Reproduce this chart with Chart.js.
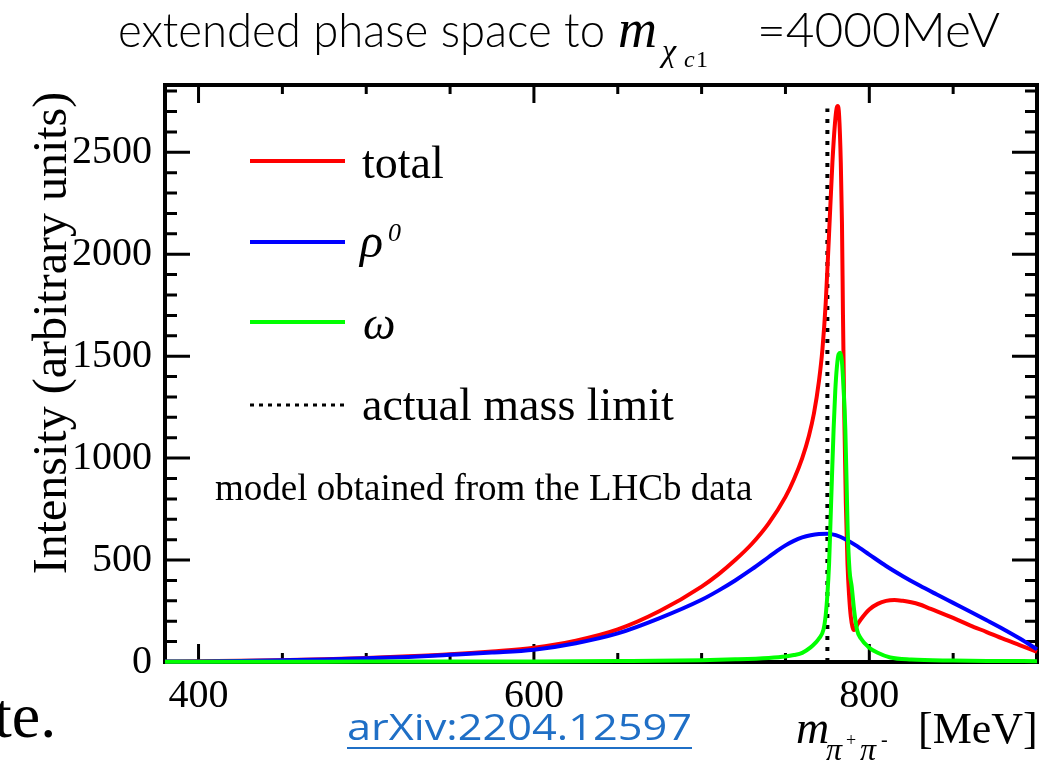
<!DOCTYPE html>
<html><head><meta charset="utf-8">
<script src="https://cdn.jsdelivr.net/npm/chart.js@4.4.0/dist/chart.umd.min.js"></script>
<style>html,body{margin:0;padding:0;background:#fff;overflow:hidden}#wrap{width:1050px;height:769px;position:relative}</style>
</head><body><div id="wrap"><canvas id="c" width="1050" height="769"></canvas></div>
<script>
// ---- data ----
const totalX = [380,400,425,450,475,500,525,550,575,600,625,650,675,700,710,720,730,740,750,755,760,764,767,770,772,774,776,778,779.5,780.5,781.2,782,783,783.7,784.3,785,786,787,788,789,790,790.8,791.5,793,795,800,805,810,815,820,825,830,835,840,850,860,870,880,890,900];
const totalY = [2,4,6,9,13,20,28,38,52,70,105,160,250,370,430,500,580,680,810,895,1000,1110,1220,1380,1530,1760,2100,2450,2640,2715,2727,2680,2450,2150,1700,1250,780,480,320,220,170,157,162,185,210,258,285,300,304,300,293,282,266,250,216,180,147,113,82,50];
const rhoX = [380,400,425,450,475,500,525,550,575,600,625,650,675,700,710,720,730,740,745,750,755,760,765,770,775,780,786,792,800,810,820,830,840,850,860,870,880,890,900];
const rhoY = [2,3,5,8,12,18,25,35,46,60,92,140,215,305,350,400,455,515,545,572,594,611,622,628,629,622,601,572,527,471,421,375,332,290,248,205,161,114,62];
const omegaX = [380,400,450,500,550,600,650,700,720,740,750,755,760,765,768,770,772.7,774,775,776,776.7,777.7,778.7,779.7,780.7,781.7,782.7,783.6,784.6,785.7,786.4,787.1,788.2,789.5,791,792.7,795,799.4,805,812.5,825,850,875,900];
const omegaY = [1,1,1,2,2,3,5,9,13,20,27,34,45,72,95,115,160,230,330,480,648,900,1140,1330,1450,1510,1517,1480,1350,1140,900,648,450,370,250,157,115,74,45,22,12,7,5,4];
const massLimitX = 775;
const massLimitTop = 2715;
const xTickLabels = [400,600,800];
const yTickLabels = [0,500,1000,1500,2000,2500];
const seriesNames = ['total','ρ','ω','actual mass limit'];

const X_MIN=380, X_MAX=900, Y_MIN=0, Y_MAX=2830;
const SERIF='"Liberation Serif","Times New Roman",serif';

const pts=(xs,ys)=>xs.map((x,i)=>({x:x,y:ys[i]}));

const framePlugin={
  id:'frame',
  beforeDatasetsDraw(chart){
    const {ctx,chartArea:a,scales:{x,y}}=chart;
    ctx.save();
    ctx.strokeStyle='#000';ctx.lineWidth=3;ctx.lineCap='butt';
    ctx.beginPath();
    for(let v=400;v<X_MAX;v+=50){
      const px=x.getPixelForValue(v);const L=xTickLabels.includes(v)?18:9;
      ctx.moveTo(px,a.bottom);ctx.lineTo(px,a.bottom-L);
      ctx.moveTo(px,a.top);ctx.lineTo(px,a.top+L);
    }
    for(let v=100;v<Y_MAX;v+=100){
      const py=y.getPixelForValue(v);const L=yTickLabels.includes(v)?25:12;
      ctx.moveTo(a.left,py);ctx.lineTo(a.left+L,py);
      ctx.moveTo(a.right,py);ctx.lineTo(a.right-L,py);
    }
    ctx.stroke();
    ctx.lineWidth=4;
    ctx.strokeRect(a.left,a.top,a.right-a.left,a.bottom-a.top);
    ctx.restore();
  },
  afterDraw(chart){
    const ctx=chart.ctx;
    ctx.save();
    ctx.fillStyle='#000';ctx.textBaseline='alphabetic';ctx.textAlign='left';
    const fitText=(t,x,y,w,font)=>{ctx.font=font;const m=ctx.measureText(t).width;ctx.save();ctx.translate(x,y);ctx.scale(w/m,1);ctx.fillText(t,0,0);ctx.restore();};
    // title
    const sans='300 47px Lato,Roboto,"Liberation Sans",sans-serif';
    fitText('extended phase space to',118,47,487,sans);
    ctx.font='italic 54px '+SERIF;ctx.fillText('m',618,47);
    ctx.font='italic 32px '+SERIF;ctx.fillText('χ',662,61);
    ctx.font='italic 24px '+SERIF;ctx.fillText('c',684,67);
    ctx.font='24px '+SERIF;ctx.fillText('1',696,67);
    fitText('=4000MeV',757,47,243,sans);
    // y axis title
    ctx.save();ctx.translate(66,333);ctx.rotate(-Math.PI/2);
    ctx.font='48px '+SERIF;ctx.textAlign='center';ctx.fillText('Intensity (arbitrary units)',0,0);
    ctx.restore();
    // x axis title
    ctx.font='italic 46px '+SERIF;ctx.fillText('m',796,743);
    ctx.font='italic 32px '+SERIF;ctx.fillText('π',826,760);
    ctx.font='18px '+SERIF;ctx.fillText('+',846,746);
    ctx.font='italic 32px '+SERIF;ctx.fillText('π',860,760);
    ctx.font='20px '+SERIF;ctx.fillText('-',881,746);
    ctx.font='44px '+SERIF;ctx.fillText('[MeV]',918,743);
    // legend
    const colors=['#ff0000','#0000ff','#00ff00','#000'];
    const ly=[161,242,322,405];
    for(let i=0;i<4;i++){
      ctx.save();ctx.strokeStyle=colors[i];
      if(i===3){ctx.lineWidth=3;ctx.setLineDash([4,5]);}else ctx.lineWidth=4;
      ctx.beginPath();ctx.moveTo(250,ly[i]);ctx.lineTo(345,ly[i]);ctx.stroke();ctx.restore();
    }
    ctx.font='46px '+SERIF;ctx.fillText(seriesNames[0],362,178);
    ctx.font='italic 48px '+SERIF;ctx.fillText(seriesNames[1],360,257);
    ctx.font='italic 26px '+SERIF;ctx.fillText('0',388,241);
    ctx.font='italic 46px '+SERIF;ctx.fillText(seriesNames[2],363,339);
    ctx.font='46px '+SERIF;ctx.fillText(seriesNames[3],362,420);
    ctx.font='37px '+SERIF;ctx.fillText('model obtained from the LHCb data',215,500);
    // stray slide text
    ctx.font='64px '+SERIF;ctx.fillText('te.',-6,737);
    // link
    ctx.fillStyle='#1f6fc6';
    fitText('arXiv:2204.12597',347,740,345,'36px "Open Sans","Liberation Sans",sans-serif');
    ctx.fillRect(347,747,345,2);
    ctx.restore();
  }
};

new Chart(document.getElementById('c'),{
  type:'line',
  data:{datasets:[
    {label:seriesNames[0],data:pts(totalX,totalY),borderColor:'#ff0000',borderWidth:4,pointRadius:0,cubicInterpolationMode:'monotone',order:3,clip:8},
    {label:seriesNames[1],data:pts(rhoX,rhoY),borderColor:'#0000ff',borderWidth:4,pointRadius:0,cubicInterpolationMode:'monotone',order:2,clip:8},
    {label:seriesNames[2],data:pts(omegaX,omegaY),borderColor:'#00ff00',borderWidth:4,pointRadius:0,cubicInterpolationMode:'monotone',order:1,clip:8},
    {label:seriesNames[3],data:[{x:massLimitX,y:0},{x:massLimitX,y:massLimitTop}],borderColor:'#000',borderWidth:4,borderDash:[4,7],pointRadius:0,order:4,clip:8}
  ]},
  options:{
    responsive:false,animation:false,devicePixelRatio:1,
    layout:{padding:{left:0,right:13,top:85,bottom:0}},
    plugins:{legend:{display:false},tooltip:{enabled:false},title:{display:false}},
    scales:{
      x:{type:'linear',min:X_MIN,max:X_MAX,
        afterBuildTicks:s=>{s.ticks=xTickLabels.map(v=>({value:v}));},
        afterFit:s=>{s.height=107;},
        grid:{display:false,drawTicks:false},border:{display:false},
        ticks:{color:'#000',font:{family:SERIF,size:40},padding:10,maxRotation:0,autoSkip:false,callback:v=>String(v)}},
      y:{type:'linear',min:Y_MIN,max:Y_MAX,
        afterBuildTicks:s=>{s.ticks=yTickLabels.map(v=>({value:v}));},
        afterFit:s=>{s.width=165;},
        grid:{display:false,drawTicks:false},border:{display:false},
        ticks:{color:'#000',font:{family:SERIF,size:40},padding:13,autoSkip:false,callback:v=>String(v)}}
    }
  },
  plugins:[framePlugin]
});
</script></body></html>
